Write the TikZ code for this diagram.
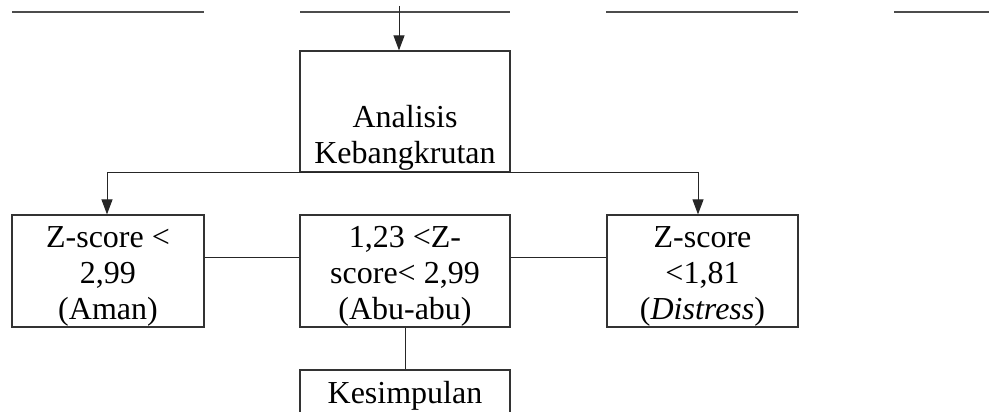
\documentclass[tikz,border=0pt]{standalone}
\usepackage{fontspec}
\setmainfont{Liberation Serif}
\usetikzlibrary{arrows.meta}
\begin{document}
\begin{tikzpicture}[x=1pt,y=-1pt,
  box/.style={draw=black!80, line width=1.2pt, rectangle, inner sep=0pt},
  txt/.style={align=center, inner sep=0pt, font=\fontsize{32}{36}\selectfont},
  conn/.style={draw=black!85, line width=1pt},
  arr/.style={conn, -{Triangle[length=15pt,width=11pt]}},
  rule/.style={draw=black!70, line width=1.6pt}]
\useasboundingbox (0,0) rectangle (989,412);
\clip (0,0) rectangle (989,412);
% header rules
\coordinate (h1a) at (12,12);  \coordinate (h1b) at (204,12);
\coordinate (h2a) at (300,12); \coordinate (h2b) at (510,12);
\coordinate (h3a) at (606,12); \coordinate (h3b) at (798,12);
\coordinate (h4a) at (894,12); \coordinate (h4b) at (989,12);
\draw[rule] (h1a) -- (h1b);
\draw[rule] (h2a) -- (h2b);
\draw[rule] (h3a) -- (h3b);
\draw[rule] (h4a) -- (h4b);
% boxes
\node[box, minimum width=210pt, minimum height=121pt] (ana) at (405,111.5) {};
\node[box, minimum width=192pt, minimum height=112pt] (aman) at (108,271) {};
\node[box, minimum width=210pt, minimum height=112pt] (abu) at (405,271) {};
\node[box, minimum width=191pt, minimum height=112pt] (dis) at (702.5,271) {};
\node[box, minimum width=210pt, minimum height=112pt] (kes) at (405,426) {};
% texts
\node[txt] (tana) at (405,138) {Analisis\\Kebangkrutan};
\node[txt] (taman) at (108,276) {Z-score <\\2,99\\(Aman)};
\node[txt] (tabu) at (405,276) {1,23 <Z-\\score< 2,99\\(Abu-abu)};
\node[txt] (tdis) at (702.5,276) {Z-score\\<1,81\\(\textit{Distress})};
\node[txt, anchor=base] (tkes) at (405,403) {Kesimpulan};
% connectors
\coordinate (top) at (399,6);
\draw[arr] (top) -- (top |- ana.north);
\coordinate (lx) at (107,172);
\coordinate (rx) at (698,172);
\draw[conn] (lx) -- (rx);
\draw[arr] (lx) -- (lx |- aman.north);
\draw[arr] (rx) -- (rx |- dis.north);
\draw[conn] ([yshift=14pt]aman.east) -- ([yshift=14pt]abu.west);
\draw[conn] ([yshift=14pt]abu.east) -- ([yshift=14pt]dis.west);
\draw[conn] (abu.south) -- (kes.north);
\end{tikzpicture}
\end{document}
